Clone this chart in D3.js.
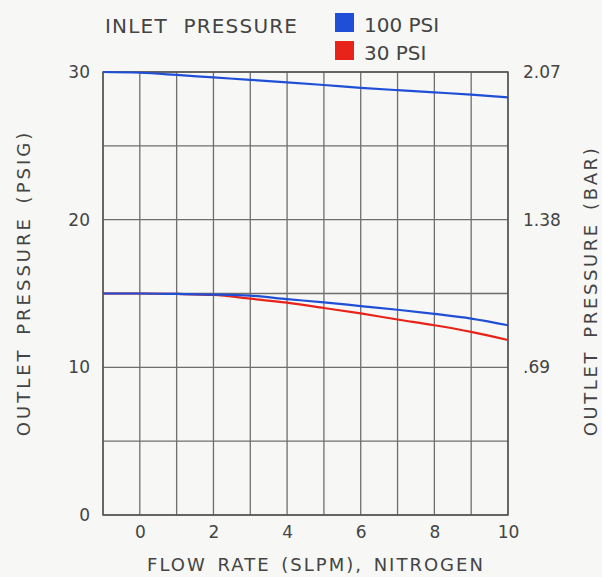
<!DOCTYPE html>
<html>
<head>
<meta charset="utf-8">
<script src="https://cdn.jsdelivr.net/npm/d3@7"></script>
<style>
  body { margin: 0; background: #f7f7f5; }
  svg { display: block; }
  text { font-family: "DejaVu Sans", sans-serif; fill: #444; }
</style>
</head>
<body>
<svg id="chart" width="602" height="577"></svg>
<script>
// flow rate (SLPM) where curves were read
const flow = [-1, 0, 1, 2, 3, 4, 5, 6, 7, 8, 9, 10];

// outlet pressure (psig)
const high100 = [30, 29.95, 29.8, 29.63, 29.47, 29.3, 29.12, 28.93, 28.77, 28.62, 28.47, 28.28];
const low100 = [15, 15, 14.97, 14.93, 14.85, 14.62, 14.4, 14.15, 13.9, 13.62, 13.3, 12.85];
const low30 = [15, 15, 14.97, 14.9, 14.65, 14.38, 14.02, 13.65, 13.24, 12.85, 12.4, 11.85];

const xTicks = [0, 2, 4, 6, 8, 10];
const yTicks = [0, 10, 20, 30];
const barLabels = ["", ".69", "1.38", "2.07"];

const legend = [
  { name: "100 PSI", color: "#1f4fd6" },
  { name: "30 PSI", color: "#e8231a" },
];

const svg = d3.select("#chart");
const plot = { left: 103, right: 508, top: 72, bottom: 515 };

const x = d3.scaleLinear().domain([-1, 10]).range([plot.left, plot.right]);
const y = d3.scaleLinear().domain([0, 30]).range([plot.bottom, plot.top]);

// grid
const grid = svg.append("g").attr("stroke", "#6e6e6e").attr("stroke-width", 1.3);
grid.selectAll(".v")
  .data(d3.range(-1, 11))
  .enter()
  .append("line")
  .attr("x1", (d) => x(d))
  .attr("x2", (d) => x(d))
  .attr("y1", plot.top)
  .attr("y2", plot.bottom);
grid.selectAll(".h")
  .data(d3.range(0, 31, 5))
  .enter()
  .append("line")
  .attr("x1", plot.left)
  .attr("x2", plot.right)
  .attr("y1", (d) => y(d))
  .attr("y2", (d) => y(d));

svg.append("rect")
  .attr("x", plot.left).attr("y", plot.top)
  .attr("width", plot.right - plot.left).attr("height", plot.bottom - plot.top)
  .attr("fill", "none").attr("stroke", "#555").attr("stroke-width", 1.5);

// axes
const xAxis = svg.append("g")
  .attr("transform", `translate(0,${plot.bottom + 8})`)
  .call(d3.axisBottom(x).tickValues(xTicks).tickSize(0));
const yAxis = svg.append("g")
  .attr("transform", `translate(${plot.left - 10},0)`)
  .call(d3.axisLeft(y).tickValues(yTicks).tickSize(0));
const yAxisR = svg.append("g")
  .attr("transform", `translate(${plot.right + 12},0)`)
  .call(d3.axisRight(y).tickValues(yTicks.slice(1)).tickSize(0)
    .tickFormat((d) => barLabels[yTicks.indexOf(d)]));
[xAxis, yAxis, yAxisR].forEach((a) => {
  a.select(".domain").remove();
  a.selectAll("text").style("font-size", "17px").attr("fill", "#444");
});

// curves
const line = d3.line()
  .x((d, i) => x(flow[i]))
  .y((d) => y(d))
  .curve(d3.curveMonotoneX);

const series = [
  { values: high100, color: legend[0].color },
  { values: low30, color: legend[1].color },
  { values: low100, color: legend[0].color },
];
svg.selectAll(".curve")
  .data(series)
  .enter()
  .append("path")
  .attr("fill", "none")
  .attr("stroke", (d) => d.color)
  .attr("stroke-width", 2.2)
  .attr("d", (d) => line(d.values));

// titles
svg.append("text")
  .attr("x", 316).attr("y", 571)
  .attr("text-anchor", "middle")
  .style("font-size", "18px")
  .style("letter-spacing", "2px")
  .style("word-spacing", "3px")
  .text("FLOW RATE (SLPM), NITROGEN");

svg.append("text")
  .attr("transform", "translate(30,283) rotate(-90)")
  .attr("text-anchor", "middle")
  .style("font-size", "18px")
  .style("letter-spacing", "3px")
  .style("word-spacing", "4px")
  .text("OUTLET PRESSURE (PSIG)");

svg.append("text")
  .attr("transform", "translate(597,291) rotate(-90)")
  .attr("text-anchor", "middle")
  .style("font-size", "18px")
  .style("letter-spacing", "2.6px")
  .style("word-spacing", "4px")
  .text("OUTLET PRESSURE (BAR)");

// legend
svg.append("text")
  .attr("x", 105).attr("y", 33)
  .style("font-size", "20px")
  .style("letter-spacing", "1.2px")
  .style("word-spacing", "8px")
  .text("INLET PRESSURE");

const leg = svg.selectAll(".leg")
  .data(legend)
  .enter()
  .append("g")
  .attr("transform", (d, i) => `translate(335,${13 + i * 28})`);
leg.append("rect").attr("width", 19).attr("height", 19).attr("fill", (d) => d.color);
leg.append("text")
  .attr("x", 29).attr("y", 19)
  .style("font-size", "20px")
  .text((d) => d.name);
</script>
</body>
</html>
